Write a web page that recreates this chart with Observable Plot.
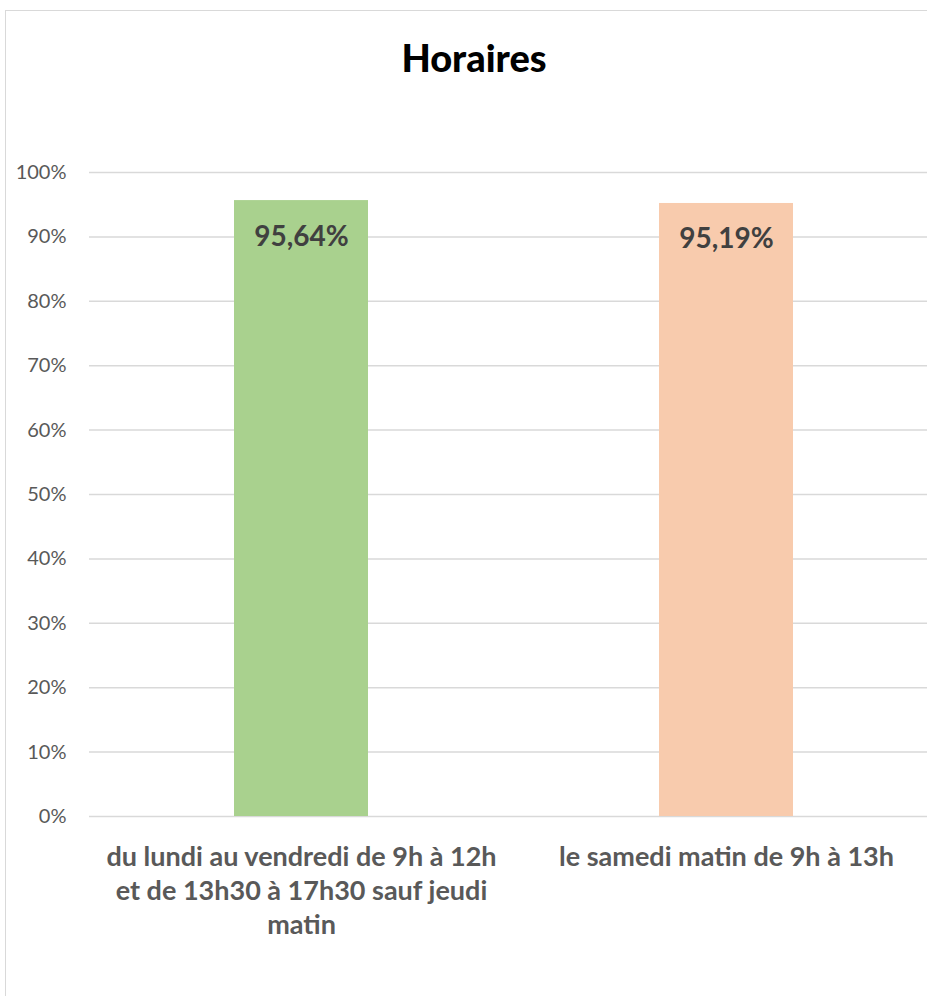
<!DOCTYPE html>
<html>
<head>
<meta charset="utf-8">
<script src="https://cdn.jsdelivr.net/npm/d3@7"></script>
<script src="https://cdn.jsdelivr.net/npm/@observablehq/plot@0.6"></script>
<style>
  html, body { margin: 0; padding: 0; background: #fff; overflow: hidden; }
  #frame { position: absolute; left: 5px; top: 10px; width: 960px; height: 1010px; border: 1.5px solid #d9d9d9; box-sizing: border-box; }
  #title { position: absolute; left: 0; width: 948px; top: 38px; text-align: center; font-family: Lato, sans-serif; font-weight: 900; font-size: 38px; line-height: 38px; color: #000; }
  #chart { position: absolute; left: 0; top: 0; }
</style>
</head>
<body>
<div id="frame"></div>
<div id="title">Horaires</div>
<div id="chart"></div>
<script>
const categories = [
  "du lundi au vendredi de 9h à 12h\net de 13h30 à 17h30 sauf jeudi\nmatin",
  "le samedi matin de 9h à 13h"
];
const values = [0.9564, 0.9519];
const valueLabels = ["95,64%", "95,19%"];
const colors = ["#A9D18E", "#F8CBAD"];
const yTicks = [0, 0.1, 0.2, 0.3, 0.4, 0.5, 0.6, 0.7, 0.8, 0.9, 1.0];

const data = categories.map((c, i) => ({cat: c, value: values[i], label: valueLabels[i], color: colors[i]}));

const chart = Plot.plot({
  width: 927,
  height: 996,
  marginTop: 172,
  marginBottom: 180,
  marginLeft: 89,
  marginRight: 0,
  style: {fontFamily: "Lato, sans-serif", background: "transparent", overflow: "visible"},
  x: {type: "band", domain: categories, range: [88.5, 938.5], paddingInner: 0.685, paddingOuter: 0.3425, label: null},
  y: {domain: [0, 1], label: null},
  marks: [
    Plot.ruleY(yTicks, {stroke: "#d9d9d9", strokeWidth: 1.5}),
    Plot.barY(data, {x: "cat", y: "value", fill: "color"}),
    Plot.text(data, {x: "cat", y: "value", text: "label", dy: 36, fontSize: 28, fontWeight: "bold", fill: "#404040", lineAnchor: "middle"}),
    Plot.axisY({ticks: yTicks, tickSize: 0, tickPadding: 23, tickFormat: d => Math.round(d * 100) + "%", fontSize: 20, color: "#595959", label: null}),
    Plot.axisX({tickSize: 0, tickPadding: 25, fontSize: 27, fontWeight: "bold", lineHeight: 34 / 27, color: "#595959", label: null})
  ]
});
document.getElementById("chart").appendChild(chart);
</script>
</body>
</html>
